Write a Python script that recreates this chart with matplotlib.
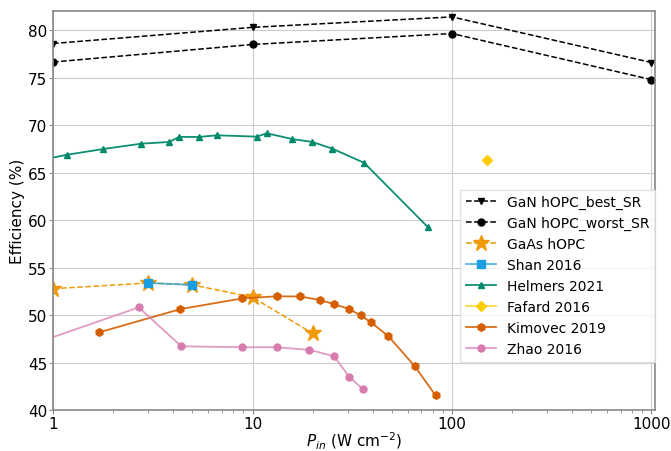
import numpy as np
import matplotlib
matplotlib.use("Agg")
import matplotlib.pyplot as plt
from matplotlib.colors import to_rgba

# GaN hOPC simulated (best / worst series resistance)
gan_x = [1, 10, 100, 1000]
gan_best = [78.6, 80.3, 81.4, 76.6]
gan_worst = [76.65, 78.5, 79.65, 74.8]

# GaAs hOPC
gaas_x = [1, 3, 5, 10, 20]
gaas_y = [52.8, 53.4, 53.2, 51.9, 48.1]

# Literature
shan_x = [3, 5]
shan_y = [53.4, 53.2]

helmers_x = [0.9, 1.18, 1.79, 2.77, 3.83, 4.28, 5.41, 6.65, 10.5, 11.8,
             15.8, 19.95, 25.1, 36.3, 75.5]
helmers_y = [66.4, 66.9, 67.5, 68.06, 68.24, 68.77, 68.77, 68.94, 68.8, 69.15,
             68.55, 68.24, 67.54, 66.04, 59.3]

fafard_x = [150]
fafard_y = [66.35]

kimovec_x = [1.70, 4.35, 8.83, 13.2, 17.4, 21.8, 25.5, 30.6, 34.8, 39.3,
             48.0, 65.0, 82.7]
kimovec_y = [48.2, 50.65, 51.77, 52.0, 51.98, 51.6, 51.2, 50.65, 49.99, 49.25,
             47.8, 44.65, 41.57]

zhao_x = [0.8, 2.69, 4.4, 8.83, 13.2, 19.3, 25.6, 30.6, 35.9]
zhao_y = [47.0, 50.83, 46.74, 46.64, 46.64, 46.36, 45.7, 43.5, 42.2]

c_gaas = "#F09A0A"
c_shan = "#1B9DE2"
c_helm = "#00896A"
c_faf = "#FFCC00"
c_kim = "#D55E00"
c_zhao = "#D87BAE"


def lit(ax, x, y, color, marker, label, ms=5, alpha=0.75):
    ax.plot(x, y, color=to_rgba(color, alpha), marker=marker, markersize=ms,
            markerfacecolor=color, markeredgecolor=color, linewidth=1.3,
            label=label)


fig, ax = plt.subplots(figsize=(6.71, 4.52), dpi=100)
fig.subplots_adjust(left=0.079, right=0.976, bottom=0.09, top=0.973)

ax.plot(gan_x, gan_best, 'v--', color='black', markersize=5, linewidth=1.1,
        label='GaN hOPC_best_SR')
ax.plot(gan_x, gan_worst, 'o--', color='black', markersize=5, linewidth=1.1,
        label='GaN hOPC_worst_SR')
ax.plot(gaas_x, gaas_y, '*--', color=c_gaas, markersize=12, linewidth=1.1,
        label='GaAs hOPC')
lit(ax, shan_x, shan_y, c_shan, 's', 'Shan 2016', ms=6)
lit(ax, helmers_x, helmers_y, c_helm, '^', 'Helmers 2021', alpha=0.95)
lit(ax, fafard_x, fafard_y, c_faf, 'D', 'Fafard 2016', ms=5)
lit(ax, kimovec_x, kimovec_y, c_kim, 'h', 'Kimovec 2019', ms=5.5, alpha=0.9)
lit(ax, zhao_x, zhao_y, c_zhao, 'o', 'Zhao 2016')

ax.set_xscale('log')
ax.set_xlim(1, 1040)
ax.set_ylim(40, 82)
ax.set_xticks([1, 10, 100, 1000])
ax.set_xticklabels(['1', '10', '100', '1000'])
ax.set_yticks([40, 45, 50, 55, 60, 65, 70, 75, 80])
ax.tick_params(axis='both', labelsize=11, length=3, color='#888888', pad=1)
ax.tick_params(axis='x', which='minor', length=2, color='#888888')
ax.grid(True, which='major', color='#cccccc', linewidth=0.8)
for s in ax.spines.values():
    s.set_color('#888888')
    s.set_linewidth(1.2)

ax.set_xlabel(r'$P_{in}$ (W cm$^{-2}$)', fontsize=11, labelpad=-1)
ax.set_ylabel('Efficiency (%)', fontsize=11, labelpad=2)

ax.legend(loc='lower right', bbox_to_anchor=(1.0, 0.122), fontsize=10,
          handlelength=2.15, labelspacing=0.5, borderpad=0.4,
          borderaxespad=0, fancybox=False, edgecolor='#dddddd')

fig.savefig('out.png', dpi=100)
